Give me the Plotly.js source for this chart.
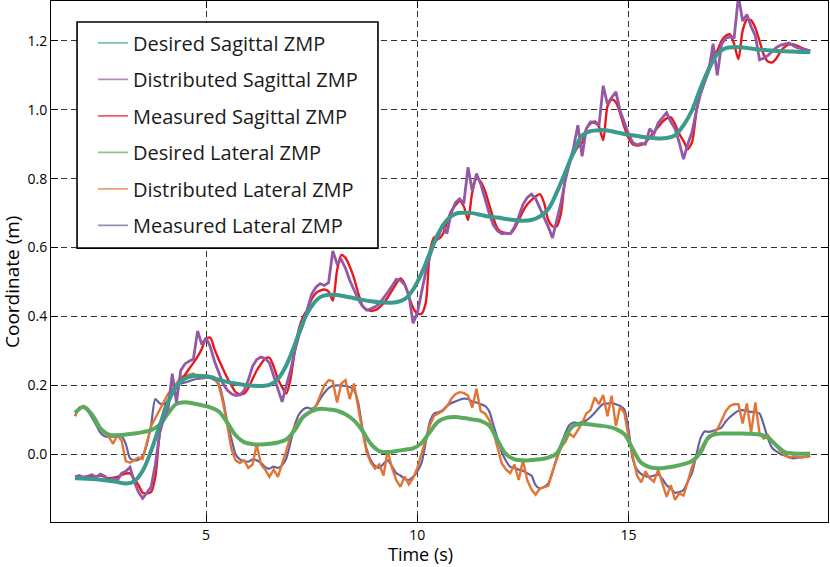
<!DOCTYPE html>
<html>
<head>
<meta charset="utf-8">
<script src="https://cdn.plot.ly/plotly-3.0.1.min.js"></script>
<style>
  html, body { margin: 0; padding: 0; background: #fff; }
  #chart { width: 830px; height: 567px; }
</style>
</head>
<body>
<div id="chart"></div>
<script>
// sampling of the traces (seconds)
const fineStart = 1.9, fineStep = 0.1;     // measured / distributed
const coarseStart = 1.9, coarseStep = 0.2; // desired references

// desired ZMP references, every 0.2 s from 1.9 s
const desiredSagittal = [
  -0.070, -0.071, -0.072, -0.074, -0.077, -0.081, -0.085, -0.079, -0.048, 0.010,
  0.082, 0.150, 0.198, 0.220, 0.227, 0.227, 0.224, 0.216, 0.210, 0.205,
  0.201, 0.199, 0.198, 0.201, 0.218, 0.258, 0.318, 0.385, 0.430, 0.456,
  0.463, 0.462, 0.458, 0.453, 0.448, 0.444, 0.441, 0.440, 0.441, 0.450,
  0.478, 0.525, 0.585, 0.642, 0.680, 0.698, 0.701, 0.700, 0.695, 0.690,
  0.687, 0.683, 0.680, 0.678, 0.680, 0.690, 0.712, 0.760, 0.818, 0.878,
  0.925, 0.938, 0.941, 0.940, 0.935, 0.930, 0.926, 0.922, 0.919, 0.917,
  0.918, 0.926, 0.955, 0.998, 1.062, 1.118, 1.162, 1.179, 1.182, 1.181,
  1.178, 1.175, 1.173, 1.171, 1.170, 1.169, 1.168, 1.168
];
const desiredLateral = [
  0.120, 0.137, 0.115, 0.075, 0.057, 0.055, 0.057, 0.060, 0.064, 0.070,
  0.085, 0.118, 0.146, 0.151, 0.147, 0.142, 0.136, 0.124, 0.092, 0.055,
  0.035, 0.029, 0.028, 0.030, 0.034, 0.043, 0.070, 0.108, 0.125, 0.132,
  0.130, 0.126, 0.116, 0.098, 0.068, 0.030, 0.009, 0.006, 0.009, 0.013,
  0.017, 0.032, 0.065, 0.095, 0.106, 0.108, 0.105, 0.101, 0.097, 0.083,
  0.040, 0.000, -0.015, -0.018, -0.017, -0.015, -0.010, 0.002, 0.050, 0.083,
  0.088, 0.086, 0.083, 0.080, 0.073, 0.058, 0.015, -0.025, -0.038, -0.041,
  -0.039, -0.035, -0.029, -0.020, 0.005, 0.050, 0.059, 0.060, 0.060, 0.060,
  0.059, 0.057, 0.048, 0.025, 0.006, 0.002, 0.001, 0.002
];

// measured / distributed, every 0.1 s from 1.9 s (one row per second)
const distributedSagittal = [
  -0.066, -0.062, -0.068, -0.064, -0.060, -0.066, -0.058, -0.064, -0.078, -0.070,
  -0.076, -0.056, -0.050, -0.038, -0.080, -0.110, -0.128, -0.112, -0.095, -0.030,
  0.060, 0.105, 0.130, 0.234, 0.150, 0.243, 0.262, 0.270, 0.276, 0.358,
  0.318, 0.338, 0.312, 0.270, 0.235, 0.205, 0.186, 0.175, 0.170, 0.172,
  0.185, 0.215, 0.255, 0.275, 0.282, 0.278, 0.265, 0.225, 0.185, 0.152,
  0.200, 0.243, 0.300, 0.345, 0.378, 0.425, 0.465, 0.485, 0.495, 0.490,
  0.498, 0.590, 0.553, 0.565, 0.540, 0.505, 0.480, 0.450, 0.430, 0.418,
  0.422, 0.428, 0.437, 0.452, 0.470, 0.488, 0.508, 0.505, 0.492, 0.462,
  0.380, 0.410, 0.470, 0.530, 0.575, 0.612, 0.630, 0.668, 0.640, 0.700,
  0.730, 0.742, 0.728, 0.833, 0.765, 0.815, 0.785, 0.740, 0.700, 0.665,
  0.648, 0.640, 0.642, 0.640, 0.660, 0.690, 0.725, 0.745, 0.755, 0.742,
  0.715, 0.685, 0.660, 0.628, 0.680, 0.730, 0.794, 0.845, 0.892, 0.955,
  0.865, 0.945, 0.965, 0.962, 0.955, 1.070, 1.016, 1.036, 1.052, 0.997,
  0.962, 0.930, 0.905, 0.898, 0.902, 0.900, 0.945, 0.930, 0.962, 0.978,
  0.992, 0.965, 0.945, 0.905, 0.857, 0.900, 0.935, 0.995, 1.045, 1.080,
  1.113, 1.192, 1.100, 1.190, 1.208, 1.212, 1.210, 1.330, 1.258, 1.277,
  1.242, 1.215, 1.145, 1.150, 1.158, 1.170, 1.181, 1.188, 1.190, 1.194,
  1.186, 1.180, 1.178, 1.174, 1.171
];
const measuredSagittal = [
  -0.066, -0.064, -0.066, -0.065, -0.063, -0.065, -0.062, -0.066, -0.070, -0.068,
  -0.066, -0.060, -0.056, -0.056, -0.072, -0.090, -0.112, -0.114, -0.110, -0.066,
  0.060, 0.128, 0.155, 0.175, 0.193, 0.212, 0.230, 0.248, 0.265, 0.283,
  0.306, 0.336, 0.338, 0.305, 0.275, 0.248, 0.222, 0.200, 0.180, 0.174,
  0.176, 0.192, 0.218, 0.243, 0.262, 0.278, 0.280, 0.255, 0.218, 0.195,
  0.176, 0.220, 0.300, 0.365, 0.400, 0.420, 0.450, 0.468, 0.475, 0.478,
  0.472, 0.446, 0.533, 0.578, 0.570, 0.545, 0.512, 0.468, 0.432, 0.420,
  0.416, 0.418, 0.426, 0.438, 0.455, 0.475, 0.495, 0.510, 0.495, 0.458,
  0.425, 0.408, 0.408, 0.440, 0.590, 0.630, 0.625, 0.638, 0.672, 0.705,
  0.722, 0.735, 0.720, 0.680, 0.760, 0.800, 0.792, 0.765, 0.725, 0.685,
  0.655, 0.645, 0.642, 0.640, 0.655, 0.680, 0.705, 0.725, 0.738, 0.748,
  0.755, 0.730, 0.680, 0.662, 0.662, 0.700, 0.800, 0.850, 0.872, 0.892,
  0.905, 0.945, 0.960, 0.966, 0.950, 0.912, 1.010, 1.030, 1.022, 0.990,
  0.950, 0.918, 0.900, 0.896, 0.898, 0.905, 0.920, 0.935, 0.950, 0.965,
  0.975, 0.978, 0.958, 0.930, 0.910, 0.886, 0.905, 0.990, 1.060, 1.095,
  1.125, 1.160, 1.172, 1.200, 1.215, 1.219, 1.190, 1.147, 1.230, 1.262,
  1.260, 1.238, 1.200, 1.160, 1.140, 1.138, 1.150, 1.170, 1.183, 1.190,
  1.190, 1.186, 1.180, 1.175, 1.171
];
const distributedLateral = [
  0.112, 0.135, 0.140, 0.132, 0.115, 0.100, 0.076, 0.062, 0.050, 0.030,
  0.055, 0.040, -0.020, -0.025, -0.018, -0.010, -0.014, 0.030, 0.082, 0.105,
  0.130, 0.150, 0.175, 0.190, 0.205, 0.224, 0.228, 0.230, 0.234, 0.226,
  0.222, 0.230, 0.226, 0.222, 0.200, 0.150, 0.085, 0.015, -0.018, -0.026,
  -0.018, -0.040, -0.030, 0.028, -0.030, -0.045, -0.066, -0.045, -0.066, -0.030,
  0.010, 0.055, 0.080, 0.098, 0.112, 0.118, 0.125, 0.140, 0.170, 0.200,
  0.215, 0.212, 0.150, 0.205, 0.215, 0.160, 0.205, 0.130, 0.068, 0.005,
  -0.025, -0.042, -0.030, -0.062, 0.010, -0.040, -0.075, -0.095, -0.065, -0.088,
  -0.070, -0.040, 0.000, 0.040, 0.085, 0.112, 0.118, 0.125, 0.138, 0.160,
  0.174, 0.180, 0.178, 0.170, 0.135, 0.190, 0.125, 0.118, 0.100, 0.065,
  0.018, -0.027, -0.045, -0.055, -0.030, -0.075, -0.017, -0.075, -0.102, -0.118,
  -0.100, -0.095, -0.092, -0.050, -0.015, 0.020, 0.035, 0.060, 0.050, 0.070,
  0.090, 0.118, 0.128, 0.165, 0.145, 0.172, 0.110, 0.170, 0.082, 0.137,
  0.120, 0.050, -0.010, -0.062, -0.082, -0.050, -0.070, -0.080, -0.045, -0.085,
  -0.124, -0.090, -0.133, -0.114, -0.120, -0.080, -0.037, -0.010, 0.012, 0.035,
  0.045, 0.058, 0.072, 0.098, 0.125, 0.140, 0.145, 0.145, 0.089, 0.147,
  0.062, 0.150, 0.060, 0.045, 0.055, 0.038, 0.022, 0.008, -0.003, -0.010,
  -0.006, -0.008, -0.010, -0.007, -0.006
];
const measuredLateral = [
  0.110, 0.134, 0.136, 0.125, 0.106, 0.085, 0.062, 0.052, 0.050, 0.051,
  0.050, 0.052, 0.030, -0.012, -0.018, -0.016, -0.005, 0.030, 0.085, 0.160,
  0.148, 0.145, 0.155, 0.178, 0.195, 0.205, 0.208, 0.212, 0.216, 0.219,
  0.220, 0.222, 0.221, 0.215, 0.205, 0.160, 0.095, 0.045, 0.000, -0.015,
  -0.020, -0.022, -0.015, -0.018, -0.025, -0.038, -0.042, -0.036, -0.040, -0.032,
  -0.012, 0.035, 0.085, 0.115, 0.130, 0.135, 0.132, 0.140, 0.160, 0.178,
  0.192, 0.198, 0.200, 0.199, 0.198, 0.195, 0.186, 0.150, 0.075, 0.015,
  -0.018, -0.035, -0.040, -0.028, -0.018, -0.035, -0.055, -0.062, -0.072, -0.075,
  -0.066, -0.050, -0.025, 0.035, 0.095, 0.118, 0.122, 0.128, 0.140, 0.148,
  0.153, 0.158, 0.161, 0.160, 0.153, 0.150, 0.145, 0.140, 0.125, 0.085,
  0.045, 0.005, -0.020, -0.037, -0.040, -0.045, -0.048, -0.055, -0.062, -0.090,
  -0.100, -0.095, -0.085, -0.052, -0.010, 0.025, 0.060, 0.085, 0.092, 0.090,
  0.094, 0.098, 0.108, 0.120, 0.135, 0.146, 0.147, 0.148, 0.145, 0.140,
  0.130, 0.070, -0.015, -0.045, -0.058, -0.064, -0.066, -0.062, -0.060, -0.072,
  -0.090, -0.100, -0.112, -0.110, -0.104, -0.080, -0.055, -0.005, 0.045, 0.066,
  0.065, 0.068, 0.072, 0.078, 0.095, 0.108, 0.118, 0.126, 0.128, 0.125,
  0.123, 0.122, 0.118, 0.085, 0.045, 0.018, 0.008, 0.000, -0.004, -0.008,
  -0.012, -0.010, -0.009, -0.007, -0.006
];

const names = ['Desired Sagittal ZMP', 'Distributed Sagittal ZMP', 'Measured Sagittal ZMP',
               'Desired Lateral ZMP', 'Distributed Lateral ZMP', 'Measured Lateral ZMP'];
const colors = ['#3a9a8b', '#9558a6', '#e8191e', '#5aab5e', '#e27535', '#6562a0'];
// legend samples are drawn thinner and paler than the plotted lines
const legendColors = ['#7cc0b4', '#b48cc4', '#ee5a5c', '#8cc48e', '#eea274', '#9490bc'];

function fine(y, i, width, shape) {
  return {
    type: 'scatter', mode: 'lines', name: names[i], showlegend: false,
    x0: fineStart, dx: fineStep, y: y,
    line: {color: colors[i], width: width, shape: shape || 'linear', smoothing: 0.7}
  };
}
function coarse(y, i) {
  return {
    type: 'scatter', mode: 'lines', name: names[i], showlegend: false,
    x0: coarseStart, dx: coarseStep, y: y,
    line: {color: colors[i], width: 4, shape: 'spline', smoothing: 1}
  };
}

// drawing order: lateral first, sagittal on top
const data = [
  fine(measuredLateral, 5, 2.2, 'spline'),
  fine(distributedLateral, 4, 2.4),
  coarse(desiredLateral, 3),
  fine(measuredSagittal, 2, 2.4, 'spline'),
  fine(distributedSagittal, 1, 2.8),
  coarse(desiredSagittal, 0)
];
// legend-only entries (no points)
names.forEach(function (n, i) {
  data.push({
    type: 'scatter', mode: 'lines', name: n, x: [null], y: [null],
    legendgroup: 'g' + i, legendrank: i + 1, showlegend: true,
    line: {color: legendColors[i], width: 1.6}
  });
});

const font = 'Open Sans, Liberation Sans, sans-serif';
const axisCommon = {
  showline: true, linecolor: '#000', linewidth: 1, mirror: 'allticks',
  ticks: 'inside', ticklen: 7, tickwidth: 1, tickcolor: '#000',
  showgrid: true, gridcolor: '#333', gridwidth: 1, griddash: '6px,4px',
  zeroline: false, tickfont: {family: font, size: 14, color: '#000'}
};

const layout = {
  width: 830, height: 567,
  margin: {l: 51, r: 2, t: 1, b: 45},
  paper_bgcolor: '#fff', plot_bgcolor: '#fff',
  font: {family: font, color: '#000'},
  xaxis: Object.assign({}, axisCommon, {
    range: [1.33, 19.72], tickvals: [5, 10, 15]
  }),
  yaxis: Object.assign({}, axisCommon, {
    range: [-0.197, 1.316], tickvals: [0, 0.2, 0.4, 0.6, 0.8, 1.0, 1.2], tickformat: '.1f'
  }),
  annotations: [
    {text: 'Time (s)', xref: 'paper', yref: 'paper', x: 0.475, y: -0.0615,
     xanchor: 'center', yanchor: 'middle', showarrow: false,
     font: {family: font, size: 18, color: '#000'}},
    {text: 'Coordinate (m)', xref: 'paper', yref: 'paper', x: -0.05, y: 0.461,
     xanchor: 'center', yanchor: 'middle', textangle: -90, showarrow: false,
     font: {family: font, size: 19, color: '#000'}}
  ],
  shapes: [
    {type: 'rect', xref: 'paper', yref: 'paper', x0: 0.0335, x1: 0.4208, y0: 0.5257, y1: 0.9597,
     layer: 'above', fillcolor: '#fff', line: {color: '#000', width: 1.6}}
  ],
  legend: {
    x: 0.054, y: 0.957, xanchor: 'left', yanchor: 'top',
    bgcolor: 'rgba(0,0,0,0)', borderwidth: 0,
    font: {family: font, size: 20, color: '#1a1a1a'},
    traceorder: 'grouped', tracegroupgap: 7.5, itemwidth: 30
  },
  showlegend: true
};

Plotly.newPlot('chart', data, layout, {displayModeBar: false, staticPlot: true});
</script>
</body>
</html>
